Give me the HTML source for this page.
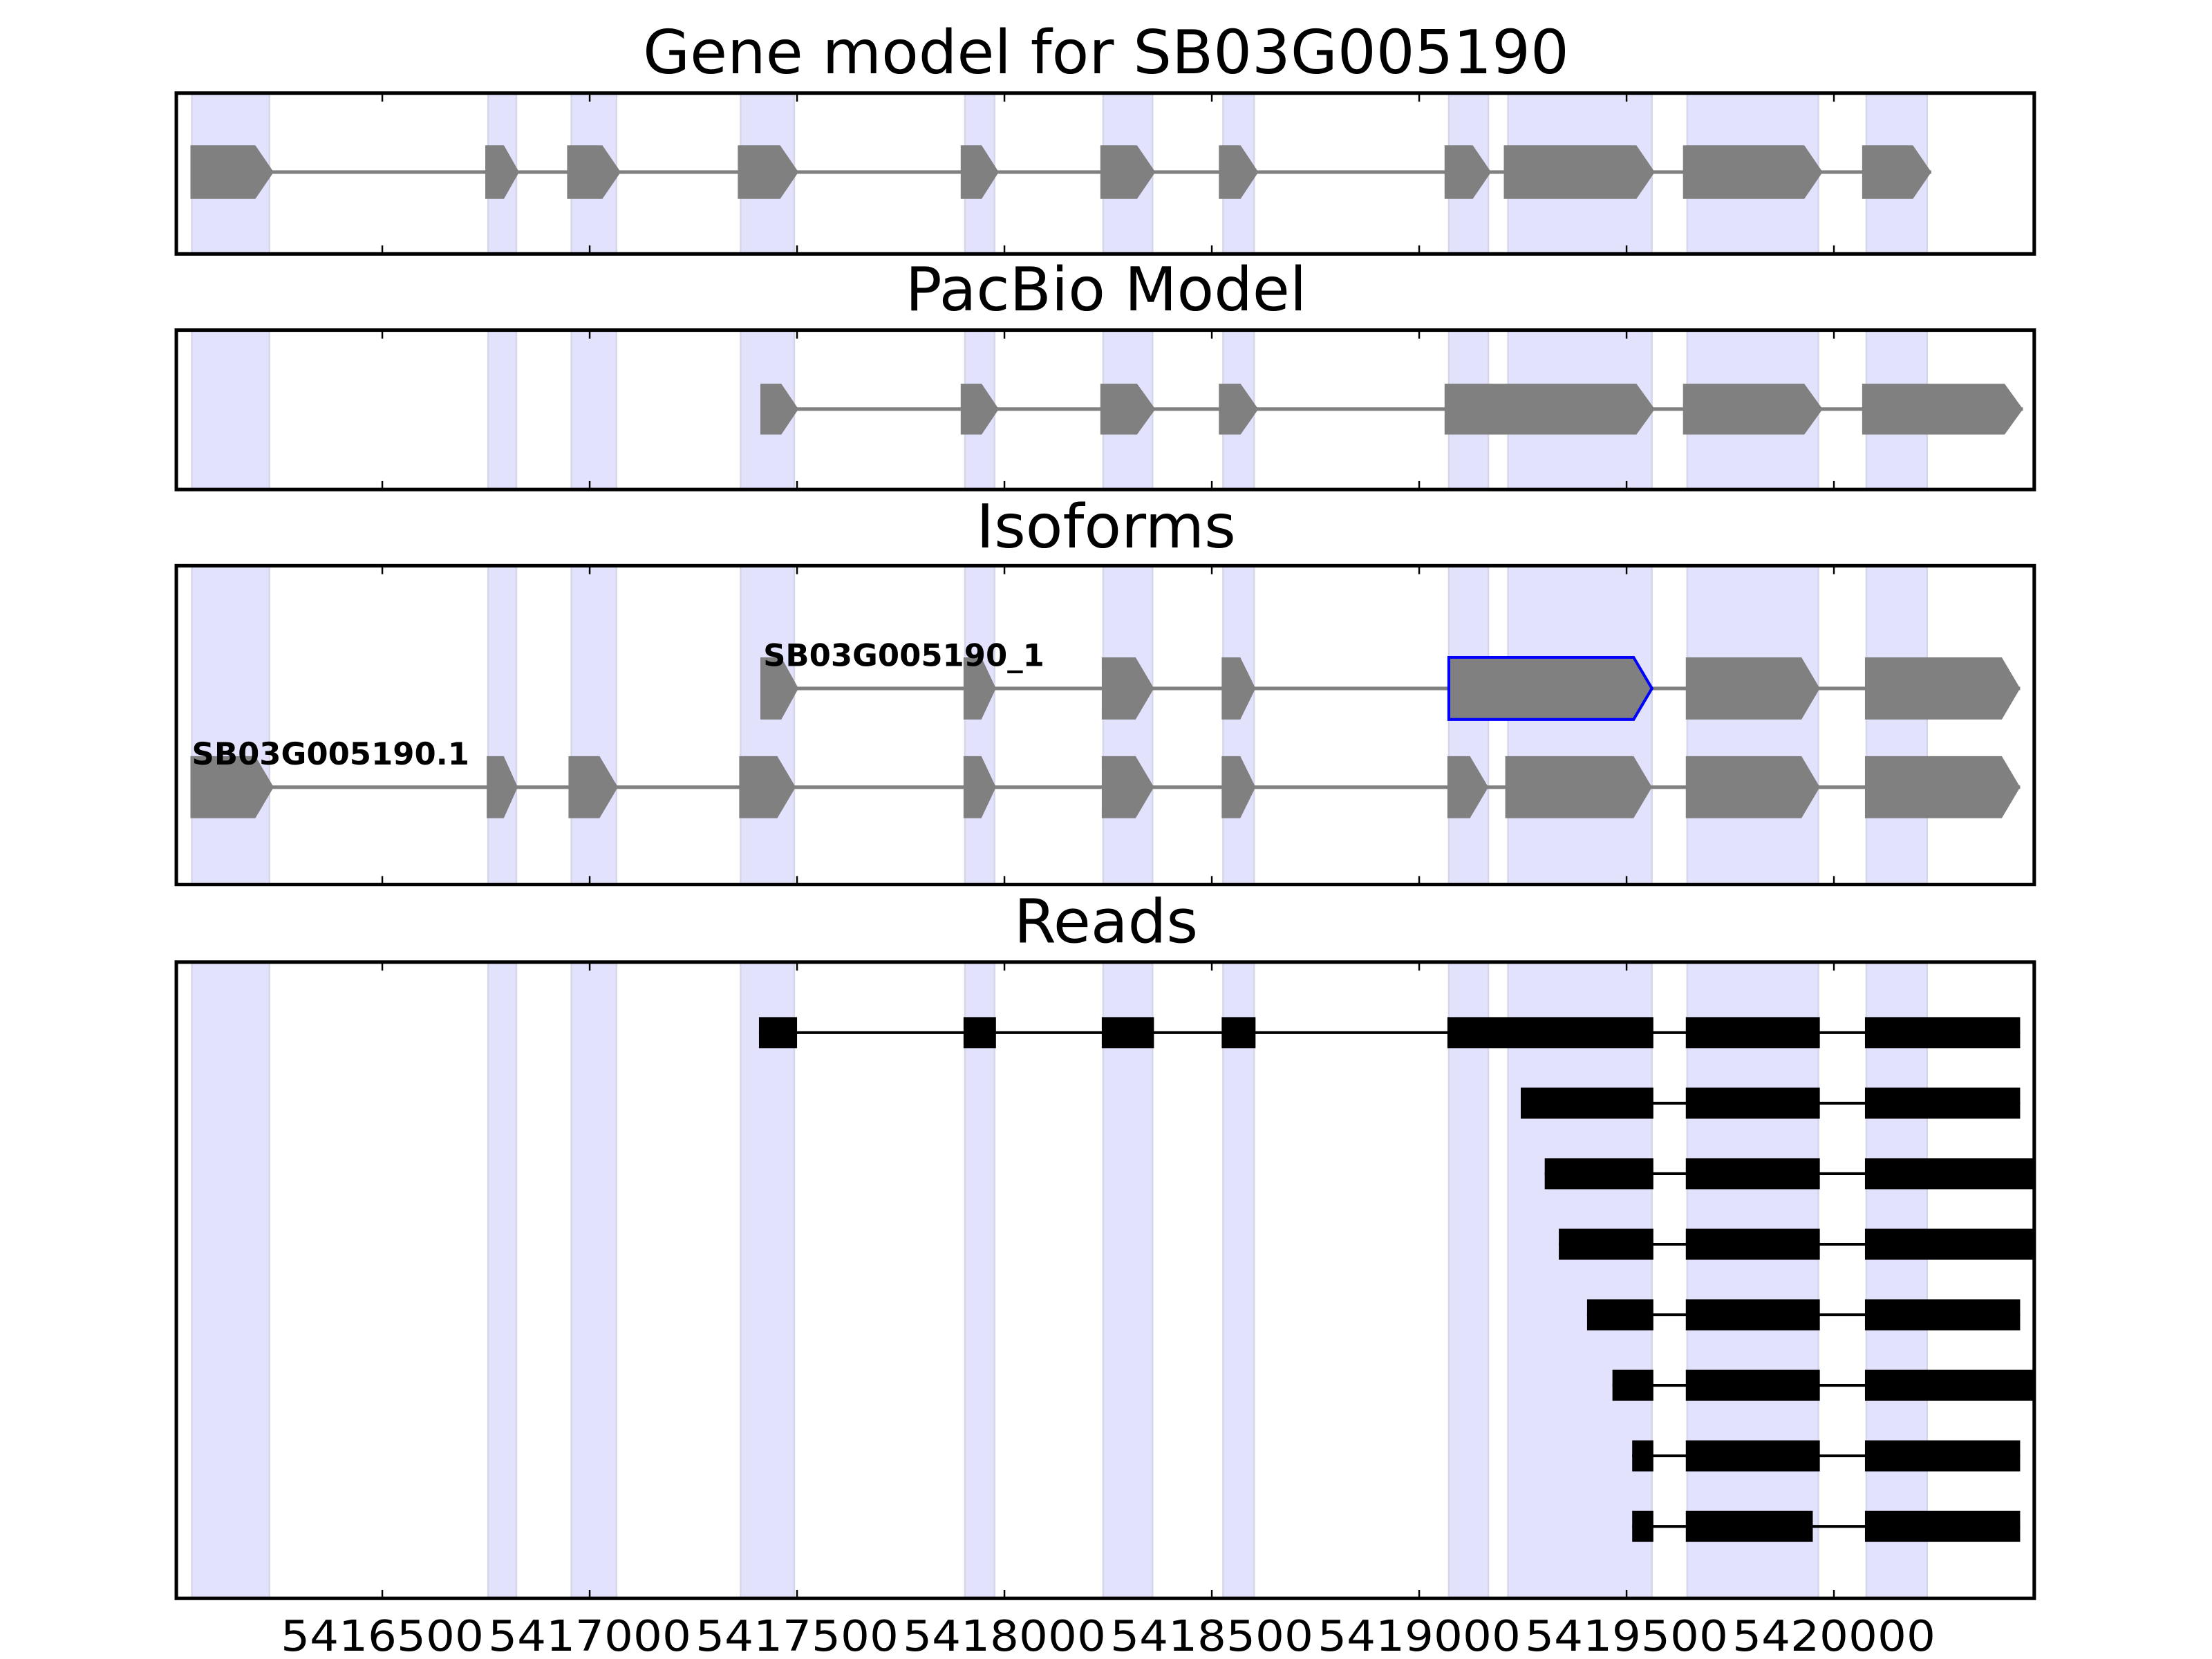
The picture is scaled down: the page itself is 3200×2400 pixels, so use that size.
<!DOCTYPE html>
<html><head><meta charset="utf-8"><style>
html,body{margin:0;padding:0;background:#fff;}
svg{display:block;}
text{font-family:"DejaVu Sans","Liberation Sans",sans-serif;}
</style></head><body>
<svg id="s" width="3200" height="2400" viewBox="0 0 1568 1176" xmlns="http://www.w3.org/2000/svg">
<rect width="1568" height="1176" fill="#fff"/>
<g id="bands"></g>
<g id="shapes"></g>
<g id="frames"></g>
<text x="784" y="52" font-size="43" text-anchor="middle">Gene model for SB03G005190</text>
<text x="784" y="220" font-size="43" text-anchor="middle">PacBio Model</text>
<text x="784" y="388" font-size="43" text-anchor="middle">Isoforms</text>
<text x="784" y="668" font-size="43" text-anchor="middle">Reads</text>
<text x="541" y="472" font-size="22" font-weight="bold">SB03G005190_1</text>
<text x="136" y="542" font-size="22" font-weight="bold">SB03G005190.1</text>
<g font-size="30" text-anchor="middle">
<text x="271" y="1170" textLength="144" lengthAdjust="spacingAndGlyphs">5416500</text>
<text x="418" y="1170" textLength="144" lengthAdjust="spacingAndGlyphs">5417000</text>
<text x="565" y="1170" textLength="144" lengthAdjust="spacingAndGlyphs">5417500</text>
<text x="712" y="1170" textLength="144" lengthAdjust="spacingAndGlyphs">5418000</text>
<text x="859" y="1170" textLength="144" lengthAdjust="spacingAndGlyphs">5418500</text>
<text x="1006" y="1170" textLength="144" lengthAdjust="spacingAndGlyphs">5419000</text>
<text x="1153" y="1170" textLength="144" lengthAdjust="spacingAndGlyphs">5419500</text>
<text x="1300" y="1170" textLength="144" lengthAdjust="spacingAndGlyphs">5420000</text>
</g>
</svg>
<script>
var NS="http://www.w3.org/2000/svg";
function el(p,t,a){var e=document.createElementNS(NS,t);for(var k in a)e.setAttribute(k,a[k]);document.getElementById(p).appendChild(e);return e;}
var panels=[[66,180],[234,347],[401,627],[682,1133]];
var bands=[[136,191],[346,366],[405,437],[525,563],[684,705],[782,817],[867,889],[1027,1055],[1069,1171],[1196,1289],[1323,1366]];
panels.forEach(function(p){
 bands.forEach(function(b){el("bands","rect",{x:b[0],y:p[0],width:b[1]-b[0],height:p[1]-p[0],fill:"#e2e2fc",stroke:"#d6d6ea","stroke-width":1.2});});
 el("frames","rect",{x:125,y:p[0],width:1317,height:p[1]-p[0],fill:"none",stroke:"#000","stroke-width":2.5});
 [271,418,565,712,859,1006,1153,1300].forEach(function(x){
  el("frames","line",{x1:x,y1:p[0],x2:x,y2:p[0]+6,stroke:"#000","stroke-width":1.2});
  el("frames","line",{x1:x,y1:p[1],x2:x,y2:p[1]-6,stroke:"#000","stroke-width":1.2});
 });
});
function gene(cy,h,ex,blue){
 el("shapes","line",{x1:ex[0][0],y1:cy,x2:ex[ex.length-1][1],y2:cy,stroke:"#808080","stroke-width":2.5});
 ex.forEach(function(e,i){
  var a=e[0],b=e[1],t=Math.min(13,0.45*(b-a));
  var pts=a+","+(cy-h/2)+" "+(b-t)+","+(cy-h/2)+" "+b+","+cy+" "+(b-t)+","+(cy+h/2)+" "+a+","+(cy+h/2);
  var o={points:pts,fill:"#808080"};
  if(blue===i){o.stroke="#0000ff";o["stroke-width"]=2;}
  el("shapes","polygon",o);
 });
}
gene(122,38,[[135,194],[344,368],[402,440],[523,566],[681,708],[780,819],[864,892],[1024,1057],[1066,1173],[1193,1292],[1320,1369]]);
gene(290,36,[[539,566],[681,708],[780,819],[864,892],[1024,1173],[1193,1292],[1320,1434]]);
gene(488,44,[[539,566],[683,706],[781,818],[866,890],[1027,1171],[1195,1290],[1322,1432]],4);
gene(558,44,[[135,194],[345,367],[403,438],[524,564],[683,706],[781,818],[866,890],[1026,1055],[1067,1171],[1195,1290],[1322,1432]]);
var reads=[
 [[538,565],[683,706],[781,818],[866,890],[1026,1172],[1195,1290],[1322,1432]],
 [[1078,1172],[1195,1290],[1322,1432]],
 [[1095,1172],[1195,1290],[1322,1442]],
 [[1105,1172],[1195,1290],[1322,1442]],
 [[1125,1172],[1195,1290],[1322,1432]],
 [[1143,1172],[1195,1290],[1322,1442]],
 [[1157,1172],[1195,1290],[1322,1432]],
 [[1157,1172],[1195,1285],[1322,1432]]];
reads.forEach(function(r,i){
 var cy=732+50*i;
 el("shapes","line",{x1:r[0][0],y1:cy,x2:r[r.length-1][1],y2:cy,stroke:"#000","stroke-width":2});
 r.forEach(function(e){el("shapes","rect",{x:e[0],y:cy-11,width:e[1]-e[0],height:22,fill:"#000"});});
});
</script>
</body></html>
